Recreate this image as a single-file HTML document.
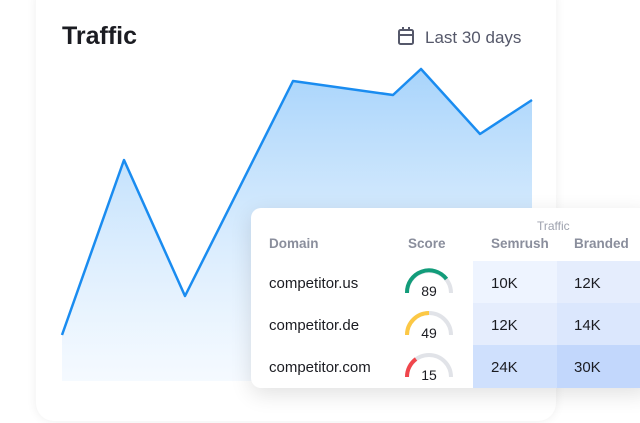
<!DOCTYPE html>
<html><head><style>
body{margin:0;width:640px;height:423px;background:#fff;font-family:"Liberation Sans",sans-serif;position:relative;overflow:hidden}
.card{position:absolute;left:36px;top:-16px;width:520px;height:437px;background:#fff;border-radius:18px;box-shadow:0 0 10px rgba(0,0,0,0.07)}
.title{position:absolute;left:62px;top:22px;font-size:25px;font-weight:bold;color:#1b1c22}
.range{position:absolute;left:425px;top:28px;font-size:17px;color:#55586a}
.tbl{position:absolute;left:251px;top:208px;width:400px;height:180px;background:#fff;border-radius:10px;box-shadow:0 6px 22px rgba(0,0,0,0.12);overflow:hidden}
.h{position:absolute;font-size:13.5px;font-weight:bold;color:#8a8e9c}
.d{position:absolute;left:18px;font-size:15px;color:#1b1c22}
.c{position:absolute;font-size:15px;color:#1b1c22}
.bg{position:absolute}
</style></head><body>
<div class="card"></div>
<div class="title">Traffic</div>
<svg style="position:absolute;left:397px;top:26px" width="18" height="20"><rect x="2" y="4" width="14" height="14" rx="1.5" fill="none" stroke="#55586a" stroke-width="2"/><line x1="2" y1="9" x2="16" y2="9" stroke="#55586a" stroke-width="2"/><line x1="6" y1="1" x2="6" y2="5" stroke="#55586a" stroke-width="2"/><line x1="12" y1="1" x2="12" y2="5" stroke="#55586a" stroke-width="2"/></svg>
<div class="range">Last 30 days</div>
<svg style="position:absolute;left:0;top:0" width="640" height="423">
<defs><linearGradient id="g" x1="0" y1="0" x2="0" y2="1"><stop offset="0" stop-color="#a8d4fb"/><stop offset="1" stop-color="#eef6ff" stop-opacity="0.6"/></linearGradient></defs>
<path d="M62,335 L124,160 L185,296 L293,81 L393,95 L421,69 L480,134 L532,100 L532,381 L62,381Z" fill="url(#g)"/>
<path d="M62,335 L124,160 L185,296 L293,81 L393,95 L421,69 L480,134 L532,100" fill="none" stroke="#1a8cf0" stroke-width="2.5" stroke-linejoin="round"/>
</svg>
<div class="tbl">
<div class="bg" style="left:222px;top:53px;width:84px;height:42px;background:#eef4ff"></div>
<div class="bg" style="left:306px;top:53px;width:94px;height:42px;background:#e5edfd"></div>
<div class="bg" style="left:222px;top:95px;width:84px;height:42px;background:#e5edfd"></div>
<div class="bg" style="left:306px;top:95px;width:94px;height:42px;background:#dbe7fd"></div>
<div class="bg" style="left:222px;top:137px;width:84px;height:43px;background:#cfe0fd"></div>
<div class="bg" style="left:306px;top:137px;width:94px;height:43px;background:#c2d7fc"></div>
<div class="h" style="left:286px;top:11px;font-size:12px;font-weight:normal;color:#9ea2ae">Traffic</div>
<div class="h" style="left:18px;top:28px">Domain</div>
<div class="h" style="left:157px;top:28px">Score</div>
<div class="h" style="left:240px;top:28px">Semrush</div>
<div class="h" style="left:323px;top:28px">Branded</div>
<div class="d" style="top:67px">competitor.us</div>
<div class="d" style="top:109px">competitor.de</div>
<div class="d" style="top:151px">competitor.com</div>
<div class="c" style="left:240px;top:67px">10K</div><div class="c" style="left:323px;top:67px">12K</div>
<div class="c" style="left:240px;top:109px">12K</div><div class="c" style="left:323px;top:109px">14K</div>
<div class="c" style="left:240px;top:151px">24K</div><div class="c" style="left:323px;top:151px">30K</div>
<svg style="position:absolute;left:150px;top:55px" width="56" height="125">
<g fill="none" stroke-width="4">
<path d="M6,30 A22,22 0 0 1 50,30" stroke="#e1e3e8"/>
<path d="M6,30 A22,22 0 0 1 45.5,16" stroke="#129c7a"/>
<path d="M6,72 A22,22 0 0 1 50,72" stroke="#e1e3e8"/>
<path d="M6,72 A22,22 0 0 1 28,50" stroke="#fcc845"/>
<path d="M6,114 A22,22 0 0 1 50,114" stroke="#e1e3e8"/>
<path d="M6,114 A22,22 0 0 1 15,96" stroke="#f0464c"/>
</g>
<g font-family="Liberation Sans" font-size="14" text-anchor="middle" fill="#1b1c22">
<text x="28" y="33">89</text><text x="28" y="75">49</text><text x="28" y="117">15</text></g>
</svg>
</div>
</body></html>
